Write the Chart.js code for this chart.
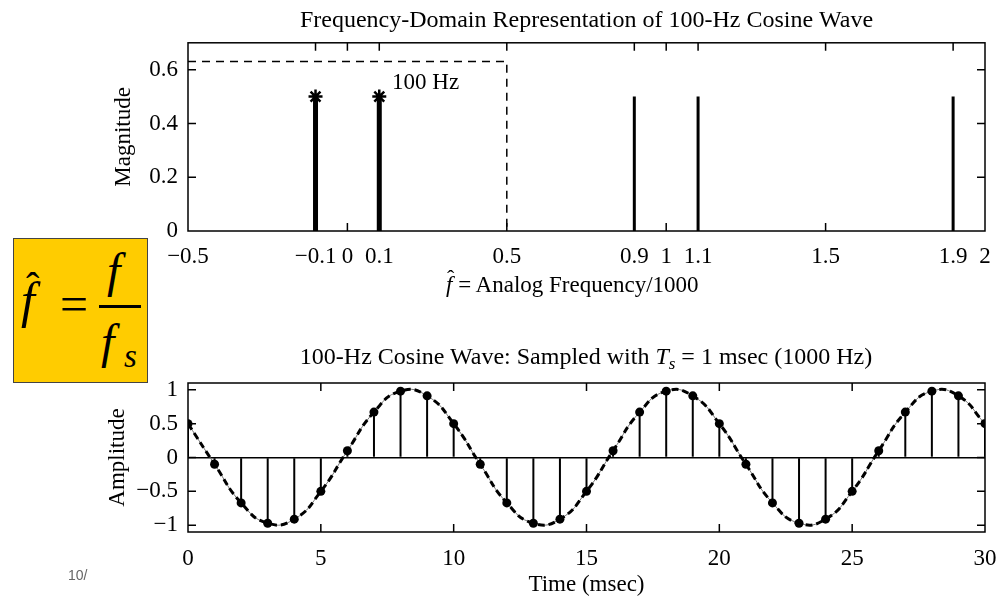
<!DOCTYPE html>
<html>
<head>
<meta charset="utf-8">
<script src="https://cdn.jsdelivr.net/npm/chart.js@4.4.1/dist/chart.umd.min.js"></script>
<style>
  html, body { margin: 0; padding: 0; background: #fff; }
  #page { position: relative; width: 1005px; height: 605px; overflow: hidden; font-family: "Liberation Serif", serif; color: #000; }
  canvas { position: absolute; left: 0; }
  #spectrum { top: 0; }
  #wave { top: 330px; }
  .txt { position: absolute; white-space: nowrap; line-height: 1; }
  #freqLabel { left: 446px; top: 273px; font-size: 23px; }
  #freqLabel .hatf { position: relative; font-style: italic; }
  #freqLabel .hatf .hat { position: absolute; left: 1px; top: -5px; font-style: normal; font-size: 22px; }
  #waveTitle { left: 586px; top: 344px; font-size: 24px; transform: translateX(-50%); }
  #waveTitle sub { font-size: 17px; vertical-align: -5px; line-height: 0; }
  #formula { position: absolute; left: 13px; top: 238px; width: 135px; height: 145px; box-sizing: border-box; background: #ffcc00; border: 1px solid #444; }
  #formula span { position: absolute; line-height: 1; }
  #formula .fmain { left: 7px; top: 36px; font-size: 50px; font-style: italic; }
  #formula .hat2 { left: 12px; top: 28px; font-size: 40px; }
  #formula .eq { left: 46px; top: 40px; font-size: 50px; }
  #formula .num { left: 93px; top: 8px; font-size: 48px; font-style: italic; }
  #formula .fbar { left: 85px; top: 66px; width: 42px; height: 3px; background: #000; }
  #formula .den { left: 87px; top: 79px; font-size: 48px; font-style: italic; }
  #formula .sub { left: 110px; top: 101px; font-size: 33px; font-style: italic; }
  #pageNo { left: 68px; top: 568px; font-family: "Liberation Sans", sans-serif; font-size: 14px; color: #666; }
</style>
</head>
<body>
<div id="page">
  <canvas id="spectrum" width="1005" height="300"></canvas>
  <canvas id="wave" width="1005" height="275"></canvas>
  <div class="txt" id="freqLabel"><span class="hatf">f<span class="hat">ˆ</span></span> = Analog Frequency/1000</div>
  <div class="txt" id="waveTitle">100-Hz Cosine Wave: Sampled with <i>T</i><sub><i>s</i></sub> = 1 msec (1000 Hz)</div>
  <div id="formula">
    <span class="fmain">f</span>
    <span class="hat2">ˆ</span>
    <span class="eq">=</span>
    <span class="num">f</span>
    <span class="fbar"></span>
    <span class="den">f</span>
    <span class="sub">s</span>
  </div>
  <div class="txt" id="pageNo">10/</div>
</div>
<script>
// spectrum lines (normalized frequency = f / fs)
const principalFreqs = [-0.1, 0.1];
const principalMags = [0.5, 0.5];
const aliasFreqs = [0.9, 1.1, 1.9];
const aliasMags = [0.5, 0.5, 0.5];
const foldX = [-0.5, 0.5, 0.5];
const foldY = [0.63, 0.63, 0];
const freqTicks = [-0.5, -0.1, 0, 0.1, 0.5, 0.9, 1, 1.1, 1.5, 1.9, 2];
const magTicks = [0, 0.2, 0.4, 0.6];
const peakLabel = "100 Hz";

// sampled cosine, Ts = 1 msec
const sampleTimes = [0, 1, 2, 3, 4, 5, 6, 7, 8, 9, 10, 11, 12, 13, 14, 15,
  16, 17, 18, 19, 20, 21, 22, 23, 24, 25, 26, 27, 28, 29, 30];
const sampleValues = [0.5, -0.1, -0.67, -0.97, -0.91, -0.5, 0.1, 0.67, 0.98, 0.91,
  0.5, -0.1, -0.67, -0.97, -0.91, -0.5, 0.1, 0.67, 0.98, 0.91,
  0.5, -0.1, -0.67, -0.97, -0.91, -0.5, 0.1, 0.67, 0.98, 0.91, 0.5];
const timeTicks = [0, 5, 10, 15, 20, 25, 30];
const ampTicks = [-1, -0.5, 0, 0.5, 1];

Chart.defaults.font.family = "'Liberation Serif', serif";
Chart.defaults.font.size = 23;
Chart.defaults.color = "#000";
Chart.defaults.animation = false;
Chart.defaults.plugins.legend.display = false;
Chart.defaults.plugins.tooltip.enabled = false;

const toPoints = (xs, ys) => xs.map((x, i) => ({ x, y: ys[i] }));
const fmt = (v) => String(v).replace("-", "\u2212");

// box around the plot with inward tick marks on all four sides
const boxTicks = {
  id: "boxTicks",
  afterDatasetsDraw(chart) {
    const { ctx, chartArea: { left, right, top, bottom }, scales: { x, y } } = chart;
    const len = 8;
    ctx.save();
    ctx.strokeStyle = "#000";
    ctx.lineWidth = 1.5;
    ctx.beginPath();
    x.ticks.forEach((t) => {
      const px = x.getPixelForValue(t.value);
      if (px <= left + 1 || px >= right - 1) return;
      ctx.moveTo(px, bottom);
      ctx.lineTo(px, bottom - len);
      ctx.moveTo(px, top);
      ctx.lineTo(px, top + len);
    });
    y.ticks.forEach((t) => {
      const py = y.getPixelForValue(t.value);
      if (py <= top + 1 || py >= bottom - 1) return;
      ctx.moveTo(left, py);
      ctx.lineTo(left + len, py);
      ctx.moveTo(right, py);
      ctx.lineTo(right - len, py);
    });
    ctx.stroke();
    ctx.strokeRect(left, top, right - left, bottom - top);
    ctx.restore();
  },
};

const peakText = {
  id: "peakText",
  afterDatasetsDraw(chart) {
    const { ctx, scales: { x, y } } = chart;
    ctx.save();
    ctx.font = "23px 'Liberation Serif'";
    ctx.fillStyle = "#000";
    ctx.textBaseline = "middle";
    ctx.fillText(peakLabel, x.getPixelForValue(0.14), y.getPixelForValue(0.55));
    ctx.restore();
  },
};

const fixedTicks = (values) => (scale) => {
  scale.ticks = values.map((value) => ({ value }));
};

// pin the x axis height and stop the end labels from squeezing the plot
const fitX = (height) => (scale) => {
  scale.height = height;
  scale.paddingLeft = 0;
  scale.paddingRight = 0;
};

new Chart(document.getElementById("spectrum"), {
  type: "scatter",
  data: {
    datasets: [
      {
        type: "bar",
        data: toPoints(aliasFreqs, aliasMags),
        backgroundColor: "#000",
        grouped: false,
        maxBarThickness: 3,
        order: 4,
      },
      {
        type: "bar",
        data: toPoints(principalFreqs, principalMags),
        backgroundColor: "#000",
        grouped: false,
        maxBarThickness: 5,
        order: 3,
      },
      {
        type: "scatter",
        data: toPoints(principalFreqs, principalMags),
        pointStyle: "star",
        pointRadius: 7,
        borderColor: "#000",
        borderWidth: 2.5,
        order: 2,
      },
      {
        type: "line",
        data: toPoints(foldX, foldY),
        showLine: true,
        borderColor: "#000",
        borderWidth: 1.5,
        borderDash: [8, 6],
        pointRadius: 0,
        fill: false,
        order: 1,
      },
    ],
  },
  options: {
    responsive: false,
    layout: { padding: { left: 0, right: 20, top: 0, bottom: 0 } },
    plugins: {
      title: {
        display: true,
        fullSize: false,
        text: "Frequency-Domain Representation of 100-Hz Cosine Wave",
        font: { size: 24, weight: "normal" },
        padding: { top: 6, bottom: 8 },
      },
    },
    scales: {
      x: {
        type: "linear",
        min: -0.5,
        max: 2,
        offset: false,
        afterBuildTicks: fixedTicks(freqTicks),
        afterFit: fitX(69),
        grid: { display: false, drawTicks: false },
        border: { display: false },
        ticks: { autoSkip: false, maxRotation: 0, padding: 12, callback: fmt },
      },
      y: {
        type: "linear",
        min: 0,
        max: 0.7,
        afterBuildTicks: fixedTicks(magTicks),
        afterFit: (scale) => { scale.width = 188; },
        grid: { display: false, drawTicks: false },
        border: { display: false },
        ticks: { padding: 10, callback: fmt },
        title: { display: true, text: "Magnitude", padding: { top: 110 } },
      },
    },
  },
  plugins: [boxTicks, peakText],
});

new Chart(document.getElementById("wave"), {
  type: "scatter",
  data: {
    datasets: [
      {
        type: "bar",
        data: toPoints(sampleTimes, sampleValues),
        backgroundColor: "#000",
        grouped: false,
        maxBarThickness: 2,
        order: 4,
      },
      {
        type: "line",
        data: toPoints(sampleTimes, sampleValues),
        showLine: true,
        borderColor: "#777",
        borderWidth: 1,
        tension: 0.5,
        pointRadius: 0,
        fill: false,
        order: 3,
      },
      {
        type: "line",
        data: toPoints(sampleTimes, sampleValues),
        showLine: true,
        borderColor: "#000",
        borderWidth: 3,
        borderDash: [7, 4],
        tension: 0.5,
        pointRadius: 0,
        fill: false,
        order: 2,
      },
      {
        type: "scatter",
        data: toPoints(sampleTimes, sampleValues),
        pointRadius: 4.5,
        backgroundColor: "#000",
        borderColor: "#000",
        borderWidth: 0,
        order: 1,
      },
    ],
  },
  options: {
    responsive: false,
    layout: { padding: { left: 0, right: 20, top: 53, bottom: 0 } },
    scales: {
      x: {
        type: "linear",
        min: 0,
        max: 30,
        offset: false,
        afterBuildTicks: fixedTicks(timeTicks),
        afterFit: fitX(73),
        grid: { display: false, drawTicks: false },
        border: { display: false },
        ticks: { autoSkip: false, maxRotation: 0, padding: 13, callback: fmt },
        title: { display: true, text: "Time (msec)", padding: { bottom: 6 } },
      },
      y: {
        type: "linear",
        min: -1.1,
        max: 1.1,
        afterBuildTicks: fixedTicks(ampTicks),
        afterFit: (scale) => { scale.width = 188; },
        grid: {
          drawTicks: false,
          lineWidth: 1.5,
          color: (ctx) => (ctx.tick && ctx.tick.value === 0 ? "#000" : "rgba(0,0,0,0)"),
        },
        border: { display: false },
        ticks: { padding: 10, callback: fmt },
        title: { display: true, text: "Amplitude", padding: { top: 104 } },
      },
    },
  },
  plugins: [boxTicks],
});
</script>
</body>
</html>
